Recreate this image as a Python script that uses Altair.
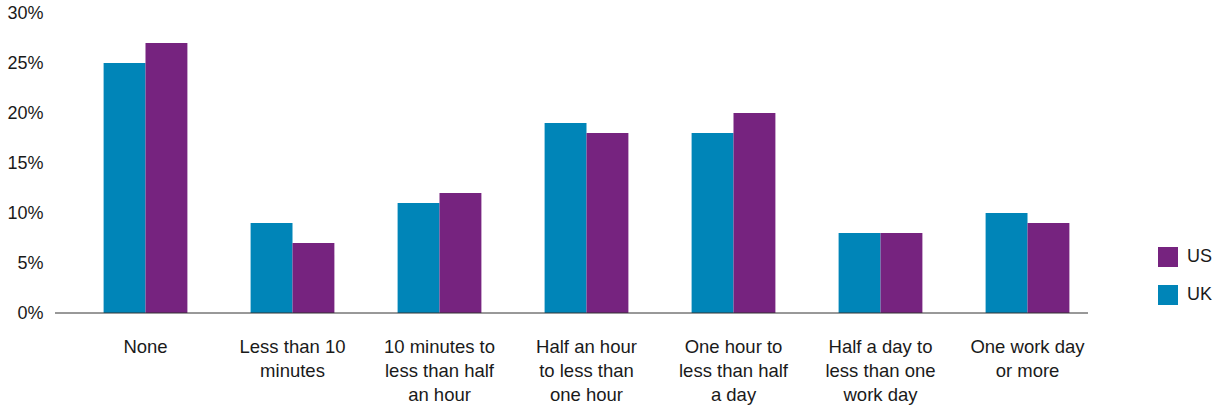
import altair as alt
import pandas as pd

categories = ["None", "Less than 10|minutes", "10 minutes to|less than half|an hour",
              "Half an hour|to less than|one hour", "One hour to|less than half|a day",
              "Half a day to|less than one|work day", "One work day|or more"]
uk = [25, 9, 11, 19, 18, 8, 10]
us = [27, 7, 12, 18, 20, 8, 9]
series = ["UK", "US"]
colors = {"UK": "#0085B8", "US": "#76237F"}

rows = []
for c, a, b in zip(categories, uk, us):
    rows.append({"cat": c, "country": "UK", "v": a / 100})
    rows.append({"cat": c, "country": "US", "v": b / 100})
df = pd.DataFrame(rows)

FONT = "Liberation Sans"
W, H = 1033, 300

bars = alt.Chart(df).mark_bar().encode(
    x=alt.X("cat:N", sort=categories, title=None,
            scale=alt.Scale(range=[17, 1046], paddingInner=0.43, paddingOuter=0.215),
            axis=alt.Axis(labelAngle=0, labelExpr="split(datum.label, '|')",
                          ticks=False, domain=False,
                          labelFontSize=18.5, labelLineHeight=24, labelPadding=33,
                          labelColor="#1a1a1a", labelFont=FONT, labelBaseline="middle")),
    xOffset=alt.XOffset("country:N", sort=series, scale=alt.Scale(paddingInner=0, paddingOuter=0)),
    y=alt.Y("v:Q", title=None,
            scale=alt.Scale(domain=[0, 0.30], nice=False),
            axis=alt.Axis(values=[0, 0.05, 0.10, 0.15, 0.20, 0.25, 0.30], format=".0%",
                          grid=False, domain=False, ticks=False, labelFontSize=18,
                          labelPadding=12, labelColor="#1a1a1a", labelFont=FONT)),
    color=alt.Color("country:N",
                    scale=alt.Scale(domain=["US", "UK"], range=[colors["US"], colors["UK"]]),
                    legend=alt.Legend(title=None, orient="none", legendX=1103, legendY=234,
                                      symbolType="square", symbolSize=400, symbolStrokeWidth=0,
                                      labelFontSize=18, labelFont=FONT, labelColor="#1a1a1a",
                                      rowPadding=18, labelOffset=9)),
)

baseline = alt.Chart(pd.DataFrame({"v": [0]})).mark_rule(color="#333333", strokeWidth=1).encode(
    y=alt.Y("v:Q"), x=alt.value(0), x2=alt.value(W)
)

chart = alt.layer(bars, baseline).properties(
    width=W, height=H,
    autosize=alt.AutoSizeParams(type="none"),
    padding={"left": 55, "top": 13, "right": 124, "bottom": 92},
).configure(background="white").configure_view(stroke=None)

chart.save("out.html", embed_options={"renderer": "svg", "actions": False})
